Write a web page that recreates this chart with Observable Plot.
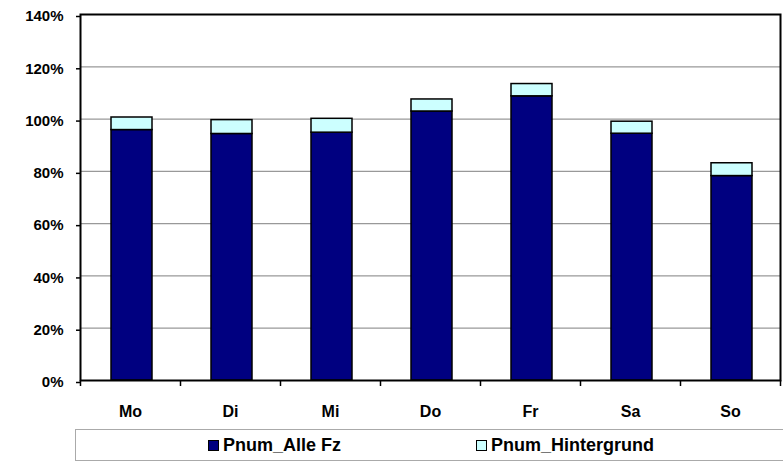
<!DOCTYPE html>
<html><head><meta charset="utf-8">
<script src="https://cdn.jsdelivr.net/npm/d3@7"></script>
<script src="https://cdn.jsdelivr.net/npm/@observablehq/plot@0.6"></script>
<style>
body{margin:0;background:#fff;font-family:"Liberation Sans",Arial,sans-serif;}
#wrap{position:relative;width:783px;height:464px;overflow:hidden;}
#legend{position:absolute;left:75px;top:429px;width:760px;height:32px;border:1.5px solid #aaa;box-sizing:border-box;font-weight:bold;font-size:18px;color:#000;}
.item{position:absolute;top:5px;display:flex;align-items:center;height:20px;}
.sw{width:9px;height:9px;border:1px solid #000;margin-right:4px;}
</style></head><body><div id="wrap"><div id="legend"></div></div><script>
const days = ["Mo","Di","Mi","Do","Fr","Sa","So"];
const alleFz = [95.8,94.3,94.8,102.9,108.7,94.4,78.2];
const hintergrund = [4.8,5.3,5.3,4.6,4.7,4.6,4.9];
const yTicks = [0,20,40,60,80,100,120,140];
const seriesNames = ["Pnum_Alle Fz","Pnum_Hintergrund"];
const colors = ["#000080","#CCFFFF"];

const rows = [];
days.forEach((d,i)=>{
  rows.push({i, day:d, series:seriesNames[0], y1:0, y2:alleFz[i]});
  rows.push({i, day:d, series:seriesNames[1], y1:alleFz[i], y2:alleFz[i]+hintergrund[i]});
});

const chart = Plot.plot({
  width:783, height:425,
  marginLeft:80, marginRight:3, marginTop:14, marginBottom:45,
  style:{fontFamily:'"Liberation Sans",Arial,sans-serif', fontWeight:"bold", fontSize:"15px", color:"#000", background:"#fff"},
  x:{domain:[0,days.length]},
  y:{domain:[0,140]},
  color:{domain:seriesNames, range:colors},
  marks:[
    Plot.ruleY(yTicks.slice(1,-1), {stroke:"#999", strokeWidth:1.2}),
    Plot.rectY(rows, {x1:"i", x2:d=>d.i+1, y1:"y1", y2:"y2", fill:"series", stroke:"#000", strokeWidth:1.5, insetLeft:31, insetRight:28}),
    Plot.frame({stroke:"#000", strokeWidth:2}),
    Plot.axisY({ticks:yTicks, tickFormat:d=>d+"%", tickSize:4, tickPadding:13, strokeWidth:1.5, label:null, fontSize:15, dy:2}),
    Plot.axisX({ticks:d3.range(days.length+1), tickFormat:()=>"", tickSize:6, strokeWidth:1.5, label:null}),
    Plot.text(days, {x:(d,i)=>i+0.5, y:0, text:d=>d, dy:31, fontSize:16, fontWeight:"bold"})
  ]
});
document.getElementById("wrap").prepend(chart);

const lg = document.getElementById("legend");
const pos = [132, 400];
seriesNames.forEach((s,k)=>{
  const it = document.createElement("div");
  it.className="item"; it.style.left = pos[k]+"px";
  it.innerHTML = `<span class="sw" style="background:${colors[k]}"></span><span>${s}</span>`;
  lg.appendChild(it);
});
</script></body></html>
